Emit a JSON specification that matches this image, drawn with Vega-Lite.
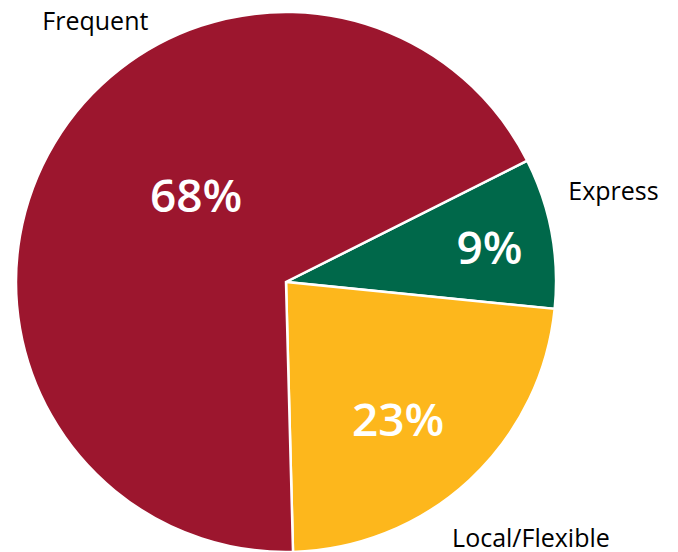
{
  "$schema": "https://vega.github.io/schema/vega-lite/v6.json",
  "width": 572,
  "height": 540,
  "autosize": "none",
  "padding": {"left": 0, "top": 12, "right": 106, "bottom": 0},
  "background": "white",
  "config": {"view": {"stroke": null}},
  "data": {"values": [
    {"segment": "Express", "share": 9, "label": "9%", "rank": 1},
    {"segment": "Local/Flexible", "share": 23, "label": "23%", "rank": 2},
    {"segment": "Frequent", "share": 68, "label": "68%", "rank": 3}
  ]},
  "encoding": {
    "theta": {"field": "share", "type": "quantitative", "stack": true, "scale": {"range": [1.105, 7.3882]}},
    "order": {"field": "rank", "type": "quantitative"}
  },
  "layer": [
    {
      "mark": {"type": "arc", "stroke": "white", "strokeWidth": 2.5},
      "encoding": {
        "color": {"field": "segment", "type": "nominal", "legend": null,
          "scale": {"domain": ["Express", "Local/Flexible", "Frequent"], "range": ["#00684A", "#FDB71C", "#9C162E"]}}
      }
    },
    {
      "mark": {"type": "text", "font": "Open Sans", "fontWeight": 600, "fontSize": 46, "fill": "white", "align": "center", "baseline": "middle", "dy": 6},
      "encoding": {"radius": {"value": 207}, "text": {"condition": {"test": "datum.segment == 'Express'", "field": "label"}, "value": ""}}
    },
    {
      "mark": {"type": "text", "font": "Open Sans", "fontWeight": 600, "fontSize": 46, "fill": "white", "align": "center", "baseline": "middle", "dx": -9, "dy": 10},
      "encoding": {"radius": {"value": 178}, "text": {"condition": {"test": "datum.segment == 'Local/Flexible'", "field": "label"}, "value": ""}}
    },
    {
      "mark": {"type": "text", "font": "Open Sans", "fontWeight": 600, "fontSize": 46, "fill": "white", "align": "center", "baseline": "middle", "dx": 17, "dy": -20},
      "encoding": {"radius": {"value": 124.5}, "text": {"condition": {"test": "datum.segment == 'Frequent'", "field": "label"}, "value": ""}}
    },
    {
      "mark": {"type": "text", "font": "Open Sans", "fontSize": 25, "fill": "black", "align": "center", "baseline": "middle", "dx": 3, "dy": -30},
      "encoding": {"radius": {"value": 330}, "text": {"condition": {"test": "datum.segment == 'Express'", "field": "segment"}, "value": ""}}
    },
    {
      "mark": {"type": "text", "font": "Open Sans", "fontSize": 25, "fill": "black", "align": "center", "baseline": "middle", "dx": 2, "dy": -5},
      "encoding": {"radius": {"value": 357}, "text": {"condition": {"test": "datum.segment == 'Local/Flexible'", "field": "segment"}, "value": ""}}
    },
    {
      "mark": {"type": "text", "font": "Open Sans", "fontSize": 25, "fill": "black", "align": "center", "baseline": "middle", "dx": 41, "dy": -121},
      "encoding": {"radius": {"value": 270}, "text": {"condition": {"test": "datum.segment == 'Frequent'", "field": "segment"}, "value": ""}}
    }
  ]
}
